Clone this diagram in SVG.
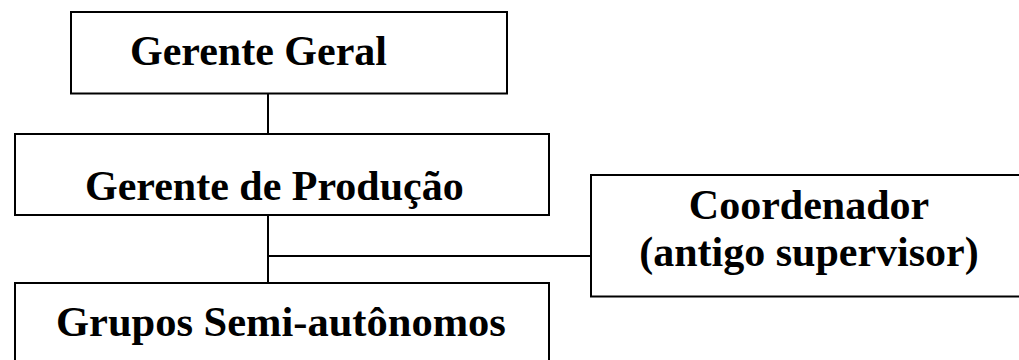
<svg xmlns="http://www.w3.org/2000/svg" width="1019" height="360" viewBox="0 0 1019 360">
<style>
.box{fill:#fff;stroke:#000;stroke-width:2}
.lbl{font-family:"Liberation Serif","Times New Roman",serif;font-weight:bold;font-size:42px;fill:#000}
.conn{stroke:#000;stroke-width:2;fill:none}
</style>
<rect width="1019" height="360" fill="#fff"/>
<g id="connectors">
<line class="conn" x1="268" y1="93" x2="268" y2="134"/>
<line class="conn" x1="268" y1="215" x2="268" y2="283"/>
<line class="conn" x1="268" y1="256" x2="591" y2="256"/>
</g>
<g id="gerente-geral">
<rect class="box" x="71" y="12" width="436" height="81.5"/>
<text class="lbl" x="130" y="65">Gerente Geral</text>
</g>
<g id="gerente-producao">
<rect class="box" x="15" y="134" width="534" height="81"/>
<text class="lbl" x="85" y="200">Gerente de Produção</text>
</g>
<g id="grupos">
<rect class="box" x="15" y="283" width="534" height="90"/>
<text class="lbl" x="56" y="336" style="font-size:42.5px">Grupos Semi-autônomos</text>
</g>
<g id="coordenador">
<rect class="box" x="591" y="175" width="440" height="121.5"/>
<text class="lbl" x="809" y="219" text-anchor="middle">Coordenador</text>
<text class="lbl" x="809" y="266" text-anchor="middle">(antigo supervisor)</text>
</g>
</svg>
